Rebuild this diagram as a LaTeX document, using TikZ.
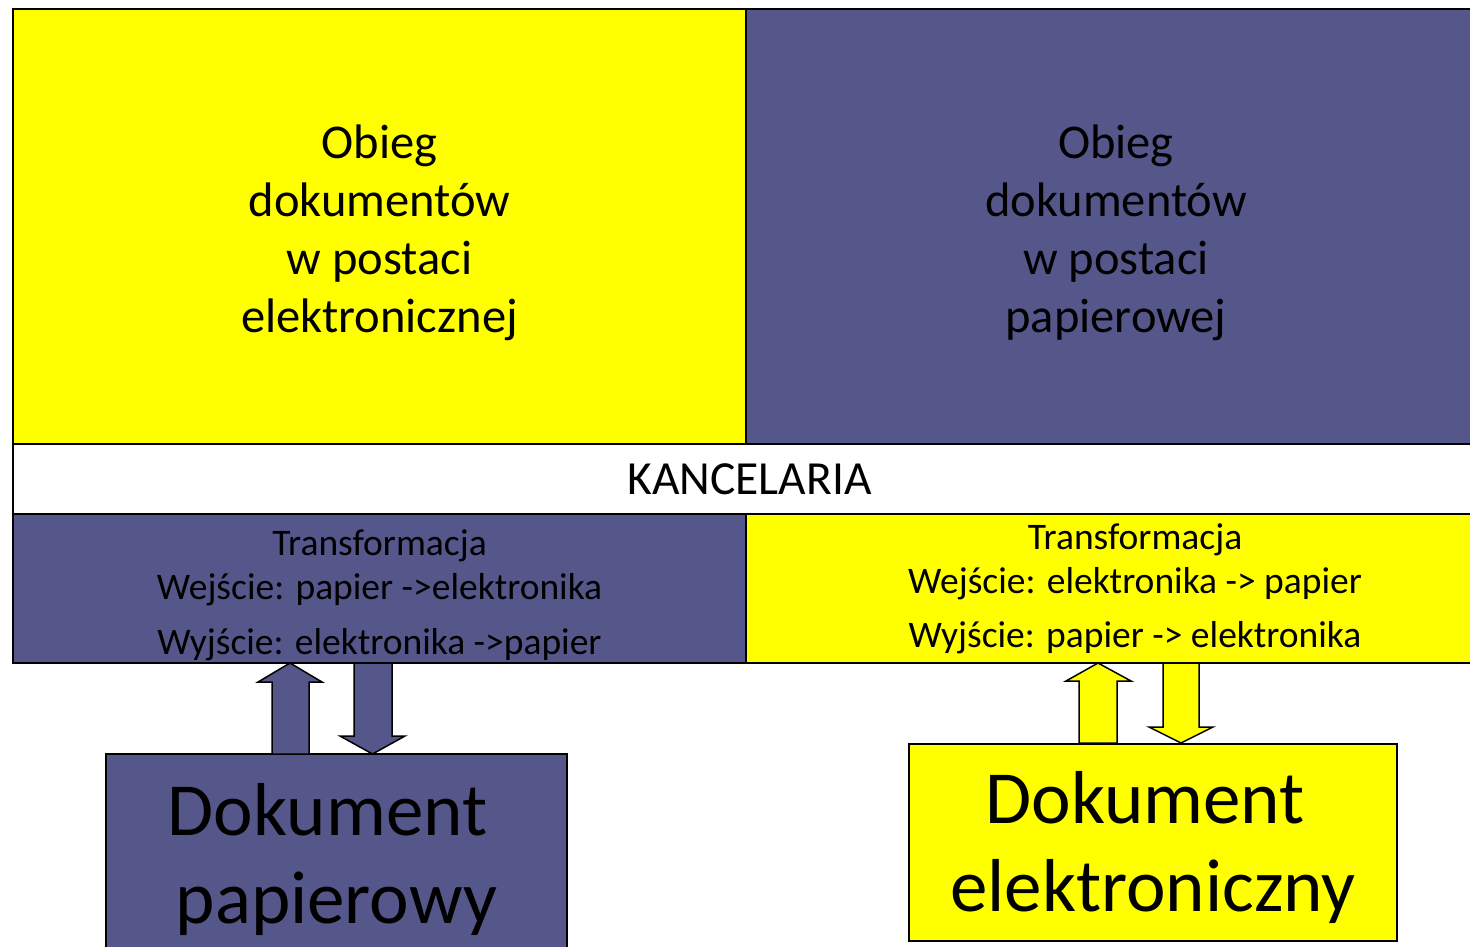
\documentclass[tikz,border=0pt]{standalone}
\usepackage{fontspec}
\setmainfont{Carlito}
\definecolor{szafir}{RGB}{85,87,139}
\definecolor{zolty}{RGB}{255,255,0}
\tikzset{
  blok/.style={draw=black,line width=2pt,anchor=north west,inner sep=0pt,align=center},
  napis/.style={inner sep=0pt,align=center},
  strzalka/.style={draw=black,line width=1.5pt,line join=miter}
}
\begin{document}
\begin{tikzpicture}[x=1pt,y=-1pt]
\useasboundingbox (0,0) rectangle (1470,946);
% gora
\node[blok,fill=zolty,minimum width=733pt,minimum height=447pt,font=\fontsize{48.5}{58}\selectfont] (elektr) at (12,8) {Obieg\\dokumentów\\w postaci\\elektronicznej};
\node[blok,fill=szafir,minimum width=740pt,minimum height=447pt,font=\fontsize{48.5}{58}\selectfont] (papier) at (745,8) {Obieg\\dokumentów\\w postaci\\papierowej};
% kancelaria
\node[blok,fill=white,minimum width=1473pt,minimum height=70pt,font=\fontsize{47.5}{54}\selectfont] (kanc) at (12,443) {KANCELARIA};
% transformacje
\node[blok,fill=szafir,minimum width=733pt,minimum height=149pt] (transL) at (12,513) {};
\node[napis,font=\fontsize{37.5}{44}\selectfont] (transLtxt) at ([yshift=-7pt]transL.center) {Transformacja\\Wejście: papier ->elektronika\\[11pt]Wyjście: elektronika ->papier};
\node[blok,fill=zolty,minimum width=778pt,minimum height=149pt,font=\fontsize{37.5}{44}\selectfont] (transP) at (745,513) {Transformacja\\Wejście: elektronika -> papier\\[10pt]Wyjście: papier -> elektronika};
% dokumenty
\node[blok,fill=szafir,minimum width=461pt,minimum height=210pt,font=\fontsize{75}{88}\selectfont] (dokPap) at (105,753) {Dokument\hspace*{18pt}\\papierowy};
\node[blok,fill=zolty,minimum width=488pt,minimum height=197pt] (dokEl) at (908,743) {};
\node[napis,font=\fontsize{75}{88}\selectfont] (dokElTxt) at ([yshift=-5pt]dokEl.center) {Dokument\hspace*{16pt}\\elektroniczny};
% strzalki
\draw[strzalka,fill=szafir] (272,754) -- (272,682) -- (258,682) -- (290,663) -- (322,682) -- (309,682) -- (309,754) -- cycle;
\draw[strzalka,fill=szafir] (354,663) -- (354,736) -- (340,736) -- (372.5,754) -- (405,736) -- (392,736) -- (392,663) -- cycle;
\draw[strzalka,fill=zolty] (1079,743) -- (1079,681) -- (1066,681) -- (1098,663) -- (1131,681) -- (1117,681) -- (1117,743) -- cycle;
\draw[strzalka,fill=zolty] (1163,663) -- (1163,727) -- (1149,727) -- (1181,743) -- (1213,727) -- (1199,727) -- (1199,663) -- cycle;
\end{tikzpicture}
\end{document}
